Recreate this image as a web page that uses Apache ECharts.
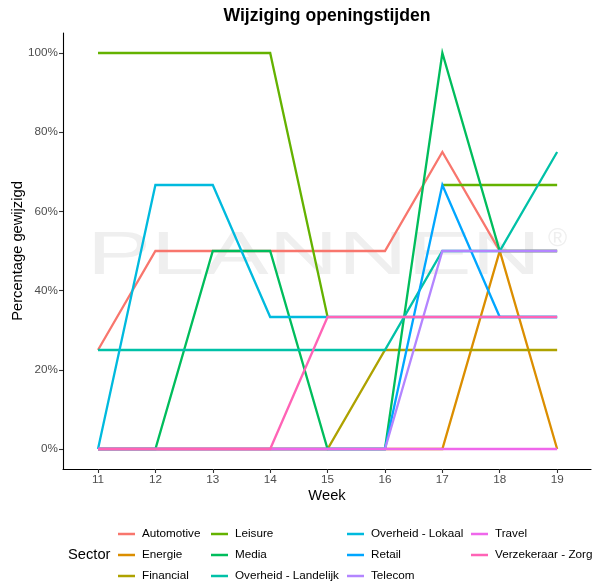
<!DOCTYPE html>
<html><head><meta charset="utf-8">
<script src="https://cdn.jsdelivr.net/npm/echarts@6/dist/echarts.min.js"></script>
<style>html,body{margin:0;padding:0;background:#fff}#c{width:595px;height:582px}</style>
</head><body><div id="c"></div>
<script>
const weeks = [11, 12, 13, 14, 15, 16, 17, 18, 19];
const yTicks = [0, 20, 40, 60, 80, 100];
const sectors = ['Automotive', 'Energie', 'Financial', 'Leisure', 'Media', 'Overheid - Landelijk', 'Overheid - Lokaal', 'Retail', 'Telecom', 'Travel', 'Verzekeraar - Zorg'];
const automotive = [25, 50, 50, 50, 50, 50, 75, 50, 50];
const energie = [0, 0, 0, 0, 0, 0, 0, 50, 0];
const financial = [0, 0, 0, 0, 0, 25, 25, 25, 25];
const leisure = [100, 100, 100, 100, 33.33, null, 66.67, 66.67, 66.67];
const media = [0, 0, 50, 50, 0, 0, 100, 50, 50];
const overheidLandelijk = [25, 25, 25, 25, 25, 25, 50, 50, 75];
const overheidLokaal = [0, 66.67, 66.67, 33.33, 33.33, 33.33, 33.33, 33.33, 33.33];
const retail = [0, 0, 0, 0, 0, 0, 66.67, 33.33, 33.33];
const telecom = [0, 0, 0, 0, 0, 0, 50, 50, 50];
const travel = [0, 0, 0, 0, 0, 0, 0, 0, 0];
const verzekeraarZorg = [0, 0, 0, 0, 33.33, 33.33, 33.33, 33.33, 33.33];
const values = [automotive, energie, financial, leisure, media, overheidLandelijk, overheidLokaal, retail, telecom, travel, verzekeraarZorg];
const colors = ['#F8766D', '#DB8E00', '#AEA200', '#64B200', '#00BD5C', '#00C1A7', '#00BADE', '#00A6FF', '#B385FF', '#EF67EB', '#FF63B6'];
const legendCols = [[0, 1, 2], [3, 4, 5], [6, 7, 8], [9, 10]];
const legendLeft = [118, 211, 347, 471];

const FONT = 'Liberation Sans, Arial, sans-serif';
const chart = echarts.init(document.getElementById('c'), null, { renderer: 'canvas' });

const series = sectors.map((name, i) => ({
  name: name,
  type: 'line',
  data: weeks.map((w, k) => [w, values[i][k]]),
  showSymbol: false,
  symbol: 'none',
  connectNulls: false,
  clip: false,
  lineStyle: { width: 2.3, color: colors[i], cap: 'butt', join: 'miter' },
  itemStyle: { color: colors[i] },
  emphasis: { disabled: true },
  animation: false
}));

const legends = legendCols.map((col, j) => ({
  orient: 'vertical',
  left: legendLeft[j],
  top: 528,
  height: 54,
  padding: 0,
  itemGap: 9,
  itemWidth: 17,
  itemHeight: 2.5,
  icon: 'rect',
  selectedMode: false,
  data: col.map(i => ({ name: sectors[i], itemStyle: { color: colors[i] } })),
  textStyle: { fontFamily: FONT, fontSize: 11.7, color: '#000', lineHeight: 12, padding: [0, 0, 0, 2] }
}));

chart.setOption({
  animation: false,
  color: colors,
  title: {
    text: 'Wijziging openingstijden',
    left: 327, top: 7, textAlign: 'center', padding: 0,
    textStyle: { fontFamily: FONT, fontSize: 17.6, fontWeight: 'bold', color: '#000' }
  },
  legend: legends,
  grid: { left: 63, right: 4, top: 33, bottom: 113, containLabel: false, outerBoundsMode: 'none' },
  xAxis: {
    type: 'value', min: 10.39, max: 19.59,
    name: 'Week', nameLocation: 'middle', nameGap: 19, nameMoveOverlap: false,
    nameTextStyle: { fontFamily: FONT, fontSize: 14.7, color: '#000' },
    splitLine: { show: false },
    axisLine: { show: true, onZero: false, lineStyle: { color: '#000', width: 1.1 } },
    axisTick: { show: true, length: 4, lineStyle: { color: '#333', width: 1.1 }, customValues: weeks },
    axisLabel: { customValues: weeks, margin: 5, fontFamily: FONT, fontSize: 11.7, color: '#4d4d4d' }
  },
  yAxis: {
    type: 'value', min: -5.05, max: 105.05,
    name: 'Percentage gewijzigd', nameLocation: 'middle', nameGap: 38, nameRotate: 90, nameMoveOverlap: false,
    nameTextStyle: { fontFamily: FONT, fontSize: 14.7, color: '#000' },
    splitLine: { show: false },
    axisLine: { show: true, onZero: false, lineStyle: { color: '#000', width: 1.1 } },
    axisTick: { show: true, length: 4, lineStyle: { color: '#333', width: 1.1 }, customValues: yTicks },
    axisLabel: { customValues: yTicks, margin: 5, fontFamily: FONT, fontSize: 11.7, color: '#4d4d4d', formatter: v => v + '%' }
  },
  graphic: [
    { type: 'text', left: 87, top: 226, z: -10, silent: true, scaleX: 1.55,
      style: { text: 'PLANNEN', fontFamily: FONT, fontSize: 62, fill: '#efefef' } },
    { type: 'text', left: 548, top: 226, z: -10, silent: true,
      style: { text: '®', fontFamily: FONT, fontSize: 26, fill: '#efefef' } },
    { type: 'text', left: 68, top: 547, silent: true,
      style: { text: 'Sector', fontFamily: FONT, fontSize: 14.7, fill: '#000' } }
  ],
  series: series
});
</script>
</body></html>
